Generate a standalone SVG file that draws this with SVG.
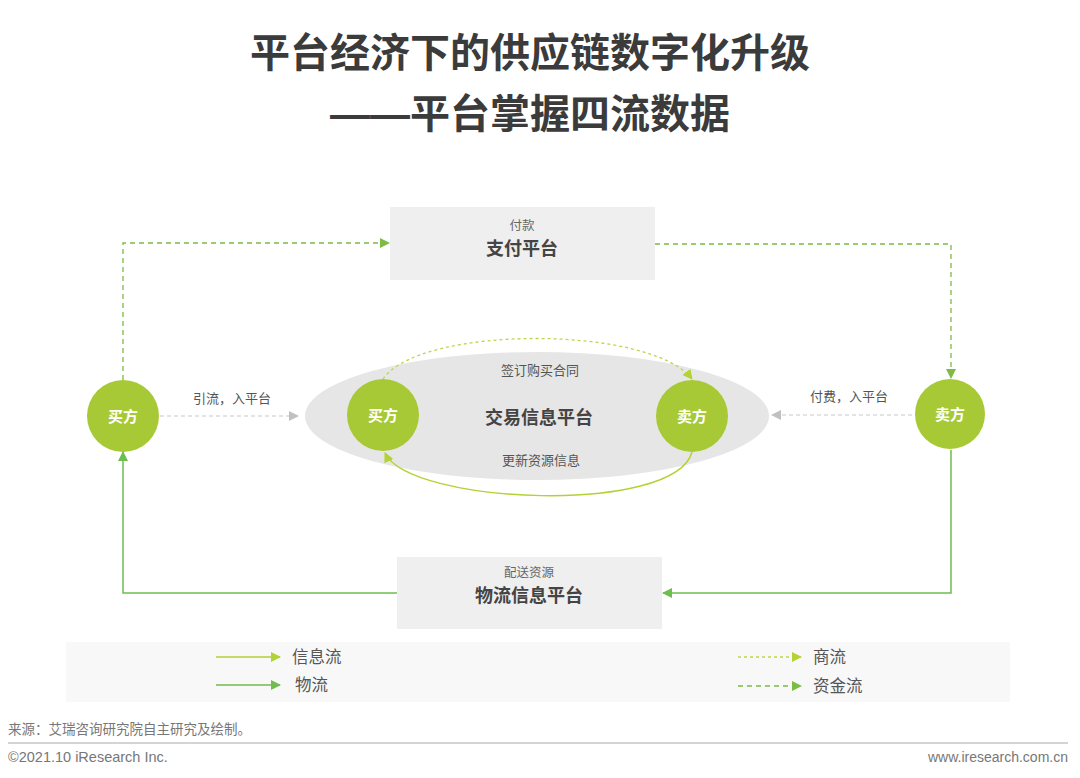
<svg xmlns="http://www.w3.org/2000/svg" width="1080" height="778" viewBox="0 0 1080 778">
<style>
text{font-family:"Liberation Sans","Noto Sans CJK SC",sans-serif}
.title{font-size:40px;font-weight:bold;fill:#3b3b3b;text-anchor:middle}
.box{fill:#efefef}
.small{font-size:12.5px;fill:#666;text-anchor:middle}
.big{font-size:18px;font-weight:bold;fill:#444;text-anchor:middle}
.circ{fill:#a8c936}
.ct{font-size:15px;font-weight:bold;fill:#fff;text-anchor:middle}
.lab{font-size:13px;fill:#555;text-anchor:middle}
.leg{font-size:16.5px;fill:#555}
.foot{font-size:13.5px;fill:#777}
.fund{fill:none;stroke:#7dbb45;stroke-width:1.3;stroke-dasharray:5 4}
.comm{fill:none;stroke:#bcd64a;stroke-width:1.3;stroke-dasharray:3 3}
.info{fill:none;stroke:#b2d235;stroke-width:1.5}
.logi{fill:none;stroke:#6fbd4e;stroke-width:1.5}
.gray{fill:none;stroke:#c8c8c8;stroke-width:1.2;stroke-dasharray:4 3}
</style>
<defs>
<marker id="aFund" markerWidth="10" markerHeight="10" refX="9" refY="5" orient="auto" markerUnits="userSpaceOnUse"><path d="M0,0 L10,5 L0,10 z" fill="#7dbb45"/></marker>
<marker id="aComm" markerWidth="10" markerHeight="10" refX="9" refY="5" orient="auto" markerUnits="userSpaceOnUse"><path d="M0,0 L10,5 L0,10 z" fill="#b2d235"/></marker>
<marker id="aInfo" markerWidth="10" markerHeight="10" refX="9" refY="5" orient="auto" markerUnits="userSpaceOnUse"><path d="M0,0 L10,5 L0,10 z" fill="#b2d235"/></marker>
<marker id="aLogi" markerWidth="10" markerHeight="10" refX="9" refY="5" orient="auto" markerUnits="userSpaceOnUse"><path d="M0,0 L10,5 L0,10 z" fill="#6fbd4e"/></marker>
<marker id="aGray" markerWidth="10" markerHeight="10" refX="9" refY="5" orient="auto" markerUnits="userSpaceOnUse"><path d="M0,0 L10,5 L0,10 z" fill="#c0c0c0"/></marker>
</defs>
<rect width="1080" height="778" fill="#fff"/>
<g id="title">
<text class="title" x="530" y="67">平台经济下的供应链数字化升级</text>
<text class="title" x="530" y="128">——平台掌握四流数据</text>
</g>
<g id="trade-platform">
<ellipse cx="537" cy="416" rx="232" ry="64" fill="#e6e6e6"/>
<text class="big" x="539" y="424">交易信息平台</text>
<text class="lab" x="540" y="375">签订购买合同</text>
<text class="lab" x="541" y="465">更新资源信息</text>
</g>
<g id="payment-platform">
<rect class="box" x="390" y="207" width="265" height="73"/>
<text class="small" x="522" y="230">付款</text>
<text class="big" x="522" y="255">支付平台</text>
</g>
<g id="logistics-platform">
<rect class="box" x="397" y="557" width="265" height="72"/>
<text class="small" x="529" y="577">配送资源</text>
<text class="big" x="529" y="602">物流信息平台</text>
</g>
<g id="buyer-outer"><circle class="circ" cx="123" cy="416" r="36"/><text class="ct" x="123" y="422">买方</text></g>
<g id="seller-outer"><circle class="circ" cx="950" cy="414" r="35"/><text class="ct" x="950" y="420">卖方</text></g>
<g id="buyer-inner"><circle class="circ" cx="383" cy="415" r="36"/><text class="ct" x="383" y="421">买方</text></g>
<g id="seller-inner"><circle class="circ" cx="692" cy="416" r="36"/><text class="ct" x="692" y="422">卖方</text></g>
<g id="connectors">
<path class="fund" d="M123,380 V243 H389" marker-end="url(#aFund)"/>
<path class="fund" d="M655,244 H951 V378" marker-end="url(#aFund)"/>
<path class="logi" d="M951,450 V593 H663" marker-end="url(#aLogi)"/>
<path class="logi" d="M397,593 H123 V452" marker-end="url(#aLogi)"/>
<path class="gray" d="M160,416 H298" marker-end="url(#aGray)"/>
<text class="lab" x="232" y="403">引流，入平台</text>
<path class="gray" d="M912,415 H772" marker-end="url(#aGray)"/>
<text class="lab" x="849" y="401">付费，入平台</text>
<path class="comm" d="M383,379 C420,325 650,325 692,379" marker-end="url(#aComm)"/>
<path class="info" d="M692,452 C675,515 410,505 385,453" marker-end="url(#aInfo)"/>
</g>
<g id="legend">
<rect x="66" y="642" width="944" height="60" fill="#f8f8f8"/>
<path class="info" d="M216,657 H280" marker-end="url(#aInfo)"/>
<text class="leg" x="292" y="663">信息流</text>
<path class="logi" d="M216,685 H280" marker-end="url(#aLogi)"/>
<text class="leg" x="295" y="691">物流</text>
<path class="comm" d="M738,657 H801" marker-end="url(#aComm)"/>
<text class="leg" x="813" y="663">商流</text>
<path class="fund" d="M738,686 H801" marker-end="url(#aFund)"/>
<text class="leg" x="813" y="692">资金流</text>
</g>
<g id="footer">
<text class="foot" x="8" y="734">来源：艾瑞咨询研究院自主研究及绘制。</text>
<line x1="8" y1="743" x2="1068" y2="743" stroke="#aaa" stroke-width="1.2"/>
<text class="foot" x="8" y="762" style="font-size:14.5px">©2021.10 iResearch Inc.</text>
<text class="foot" x="1068" y="762" text-anchor="end" style="font-size:14px">www.iresearch.com.cn</text>
</g>
</svg>
